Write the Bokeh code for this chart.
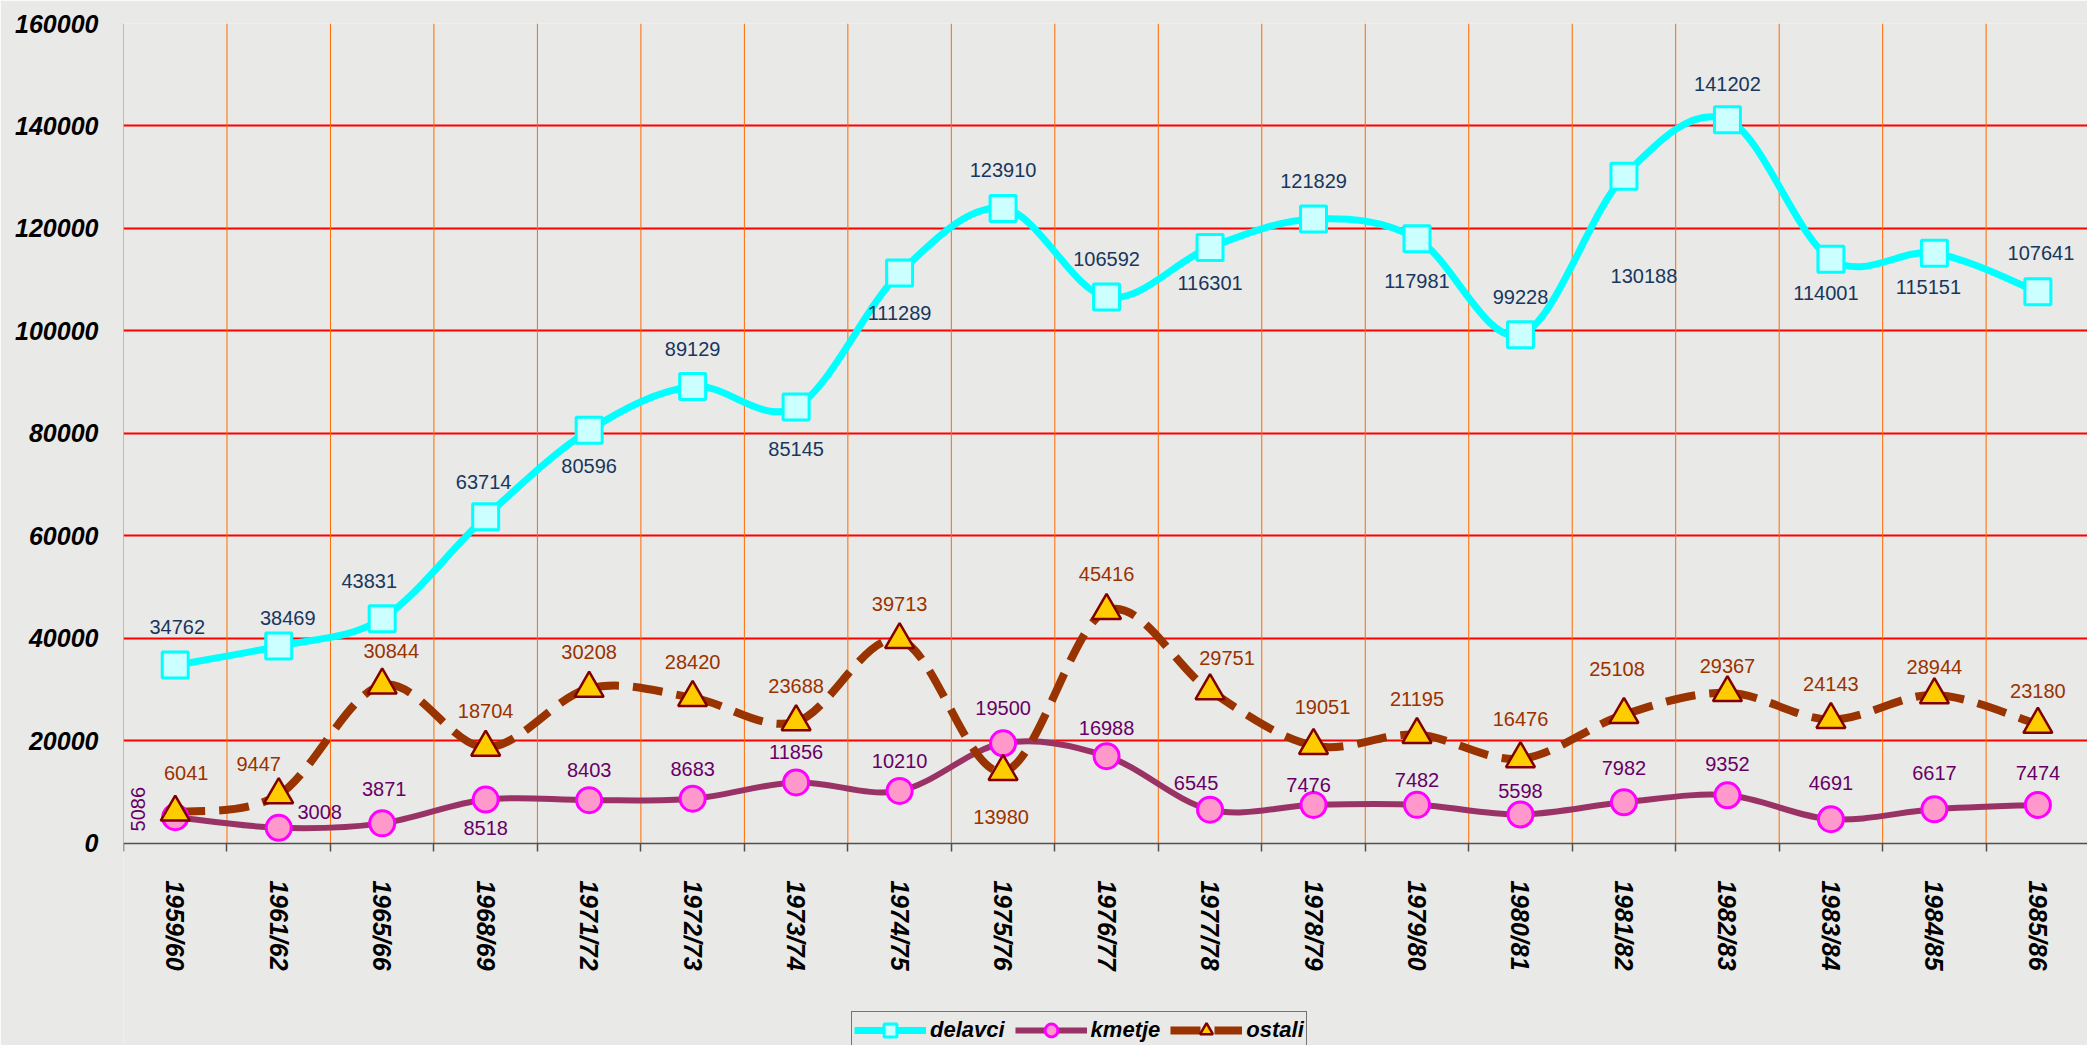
import math
from bokeh.plotting import figure
from bokeh.models import (Range1d, FixedTicker, NumeralTickFormatter, Legend, LegendItem,
                          ColumnDataSource, LinearAxis)
from bokeh.core.properties import value
from bokeh.embed import file_html
from bokeh.resources import INLINE

# ---------------- data ----------------
categories = ["1959/60", "1961/62", "1965/66", "1968/69", "1971/72", "1972/73", "1973/74",
              "1974/75", "1975/76", "1976/77", "1977/78", "1978/79", "1979/80", "1980/81",
              "1981/82", "1982/83", "1983/84", "1984/85", "1985/86"]
delavci = [34762, 38469, 43831, 63714, 80596, 89129, 85145, 111289, 123910, 106592,
           116301, 121829, 117981, 99228, 130188, 141202, 114001, 115151, 107641]
kmetje = [5086, 3008, 3871, 8518, 8403, 8683, 11856, 10210, 19500, 16988,
          6545, 7476, 7482, 5598, 7982, 9352, 4691, 6617, 7474]
ostali = [6041, 9447, 30844, 18704, 30208, 28420, 23688, 39713, 13980, 45416,
          29751, 19051, 21195, 16476, 25108, 29367, 24143, 28944, 23180]
y_ticks = [0, 20000, 40000, 60000, 80000, 100000, 120000, 140000, 160000]

# label placement (screen pixel offsets, y positive = down)
del_dx = [2, 9, -13, -2, 0, 0, 0, 0, 0, 0, 0, 0, 0, 0, 20, 0, -5, -6, 3]
del_dy = [-38, -28, -38, -35, 36, -38, 42, 40, -38, -38, 36, -38, 42, -38, 100, -36, 34, 34, -39]
kme_dx = [-37, 41, 2, 0, 0, 0, 0, 0, 0, 0, -14, -5, 0, 0, 0, 0, 0, 0, 0]
kme_dy = [-8, -16, -34, 28, -30, -30, -30, -30, -35, -28, -27, -20, -25, -24, -34, -31, -36, -36, -32]
kme_ang = [math.pi / 2] + [0] * 18
ost_dx = [11, -20, 9, 0, 0, 0, 0, 0, -2, 0, 17, 9, 0, 0, -7, 0, 0, 0, 0]
ost_dy = [-39, -31, -34, -36, -36, -36, -36, -36, 45, -37, -33, -39, -36, -40, -46, -27, -36, -28, -33]

BG = "#E9E9E7"
W, H = 2087, 1045
TOP, ZERO_Y, LEFT = 23, 842.7, 123
PX_PER_CAT = 103.48

n = len(categories)
xs = list(range(n))
ymax = y_ticks[-1]
px_per_unit = (ZERO_Y - TOP) / ymax
y_start = -(H - ZERO_Y) / px_per_unit

p = figure(width=W, height=H, output_backend="svg", toolbar_location=None,
           x_axis_type=None,
           x_range=Range1d(-0.5, -0.5 + (W - LEFT) / PX_PER_CAT),
           y_range=Range1d(y_start, ymax),
           min_border_left=LEFT, min_border_top=TOP, min_border_bottom=0, min_border_right=0)
p.background_fill_color = BG
p.border_fill_color = BG
p.outline_line_color = None

# vertical category boundary lines (orange), from 0 up to the top
boundaries = [i - 0.5 for i in range(n + 1)]
p.segment(x0=boundaries, y0=[0] * len(boundaries), x1=boundaries, y1=[ymax] * len(boundaries),
          line_color="#FF6A00", line_width=1)

# horizontal grid (red)
p.ygrid.ticker = FixedTicker(ticks=y_ticks[1:])
p.ygrid.grid_line_color = "#FF0000"
p.ygrid.grid_line_width = 2

# x axis fixed at y = 0
xaxis = LinearAxis(fixed_location=0, ticker=FixedTicker(ticks=xs, minor_ticks=boundaries))
xaxis.major_label_overrides = {i: c for i, c in enumerate(categories)}
xaxis.major_label_orientation = -math.pi / 2
xaxis.major_tick_line_color = None
xaxis.major_tick_out = 0
xaxis.major_tick_in = 0
xaxis.minor_tick_out = 8
xaxis.minor_tick_in = 0
xaxis.minor_tick_line_color = "#505050"
xaxis.minor_tick_line_width = 1.5
xaxis.axis_line_color = "#505050"
xaxis.axis_line_width = 1.5
xaxis.major_label_standoff = 29
xaxis.major_label_text_font = "Liberation Sans"
xaxis.major_label_text_font_style = "bold italic"
xaxis.major_label_text_font_size = "25px"
xaxis.major_label_text_color = "#000000"
p.add_layout(xaxis, "below")

p.yaxis.ticker = FixedTicker(ticks=y_ticks)
p.yaxis.formatter = NumeralTickFormatter(format="0")
p.yaxis.axis_line_color = None
p.yaxis.major_tick_line_color = None
p.yaxis.minor_tick_line_color = None
p.yaxis.major_tick_out = 0
p.yaxis.major_tick_in = 0
p.yaxis.major_label_standoff = 25
p.yaxis.major_label_text_font = "Liberation Sans"
p.yaxis.major_label_text_font_style = "bold italic"
p.yaxis.major_label_text_font_size = "25px"
p.yaxis.major_label_text_color = "#000000"


def smooth_source(vals):
    """Cubic Bezier segments (Catmull-Rom style smoothing) through the data points."""
    d = dict(x0=[], y0=[], x1=[], y1=[], cx0=[], cy0=[], cx1=[], cy1=[])
    m = len(vals)
    for i in range(m - 1):
        ip = max(i - 1, 0)
        inn = min(i + 2, m - 1)
        d["x0"].append(i)
        d["y0"].append(vals[i])
        d["x1"].append(i + 1)
        d["y1"].append(vals[i + 1])
        d["cx0"].append(i + (i + 1 - ip) / 6)
        d["cy0"].append(vals[i] + (vals[i + 1] - vals[ip]) / 6)
        d["cx1"].append(i + 1 - (inn - i) / 6)
        d["cy1"].append(vals[i + 1] - (vals[inn] - vals[i]) / 6)
    return ColumnDataSource(d)


bz = dict(x0="x0", y0="y0", x1="x1", y1="y1", cx0="cx0", cy0="cy0", cx1="cx1", cy1="cy1")
l_del = p.bezier(source=smooth_source(delavci), line_color="#00FFFF", line_width=7, **bz)
l_kme = p.bezier(source=smooth_source(kmetje), line_color="#993366", line_width=6, **bz)
l_ost = p.bezier(source=smooth_source(ostali), line_color="#993300", line_width=8,
                 line_dash="30 14", **bz)

m_del = p.scatter(xs, delavci, marker="square", size=26, fill_color="#CCFFFF",
                  line_color="#00FFFF", line_width=3)
m_kme = p.scatter(xs, kmetje, marker="circle", size=25, fill_color="#FF99CC",
                  line_color="#FF00FF", line_width=3)
m_ost = p.scatter(xs, ostali, marker="triangle", size=29, fill_color="#FFCC00",
                  line_color="#800000", line_width=2.5)

lab = dict(text_align="center", text_baseline="middle", text_font=value("Liberation Sans"),
           text_font_size="20px")
p.text(x=xs, y=delavci, text=[str(v) for v in delavci], x_offset=del_dx, y_offset=del_dy,
       text_color="#17375E", **lab)
p.text(x=xs, y=kmetje, text=[str(v) for v in kmetje], x_offset=kme_dx, y_offset=kme_dy,
       angle=kme_ang, text_color="#660066", **lab)
p.text(x=xs, y=ostali, text=[str(v) for v in ostali], x_offset=ost_dx, y_offset=ost_dy,
       text_color="#993300", **lab)

# legend: top edge ~1003 px, left edge ~850 px; its bottom is cut by the page edge
LEG_H = 46
legend = Legend(items=[LegendItem(label="delavci", renderers=[l_del, m_del]),
                       LegendItem(label="kmetje", renderers=[l_kme, m_kme]),
                       LegendItem(label="ostali", renderers=[l_ost, m_ost])],
                location=(850 - LEFT + 1, (H - 1003) - LEG_H), orientation="horizontal")
legend.label_text_font = "Liberation Sans"
legend.label_text_font_style = "bold italic"
legend.label_text_font_size = "22px"
legend.label_text_color = "#000000"
legend.glyph_width = 72
legend.glyph_height = 32
legend.label_height = 32
legend.label_standoff = 4
legend.spacing = 10
legend.padding = 2
legend.margin = 0
legend.border_line_color = "#000000"
legend.border_line_width = 1
legend.background_fill_alpha = 0
p.add_layout(legend, "center")

open("out.html", "w").write(file_html(p, INLINE))
